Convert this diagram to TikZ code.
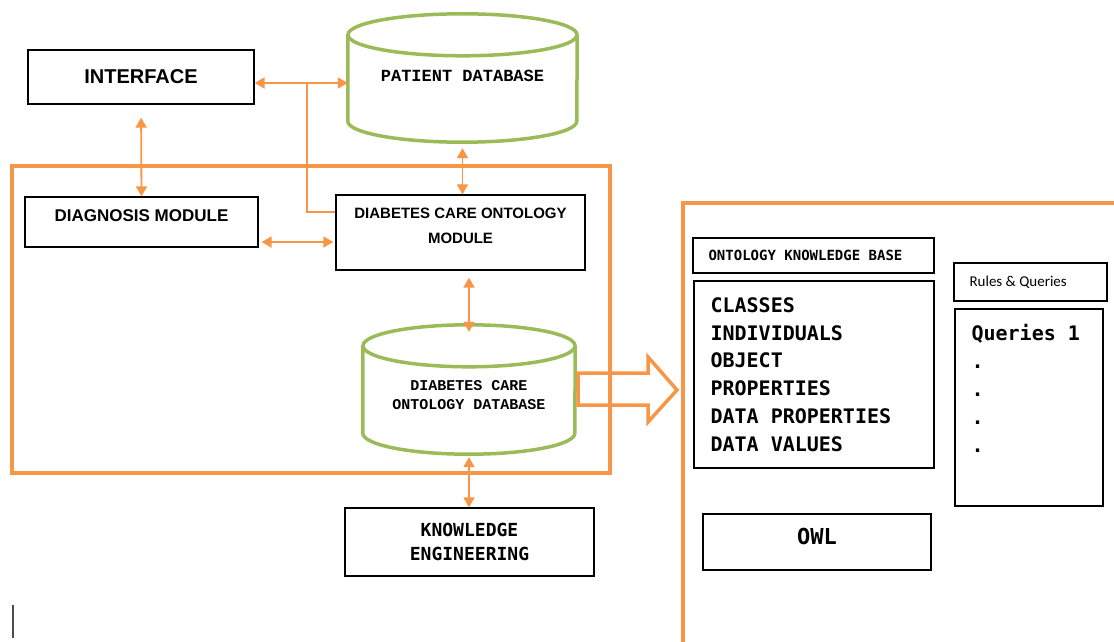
\documentclass[tikz,border=0pt]{standalone}
\usepackage{fontspec}
\setmainfont{Liberation Sans}
\newfontfamily\monoserif{Liberation Mono}
\newfontfamily\monosans{DejaVu Sans Mono}
\newfontfamily\carlito{Carlito}
\usetikzlibrary{
	arrows.meta,
	positioning
  }
\definecolor{ofcorange}{RGB}{247,150,70}
\definecolor{ofcgreen}{RGB}{155,187,89}
\tikzstyle{box}=[draw=black, line width=1.3pt, inner sep=0pt]
\tikzstyle{dbarea}=[inner sep=0pt]
\tikzstyle{dbline}=[draw=ofcgreen, line width=3.5pt]
\tikzstyle{dbtext}=[inner sep=0pt, align=center]
\tikzstyle{list}=[inner sep=0pt, align=left]
\tikzstyle{link}=[draw=ofcorange, line width=1.8pt, {Triangle[length=10pt,width=11pt]}-{Triangle[length=10pt,width=11pt]}]
\tikzstyle{wire}=[draw=ofcorange, line width=1.3pt]
\tikzstyle{outline}=[draw=ofcorange, line width=3.8pt]
% cylinder drawn over an area node: #1 node, #2 x radius, #3 y radius
\newcommand{\drawdb}[3]{%
	\draw[dbline] ([yshift=-#3]#1.north) ellipse[x radius=#2, y radius=#3];
	\draw[dbline] ([yshift=-#3]#1.north west) -- ([yshift=#3]#1.south west)
		arc[start angle=180, end angle=360, x radius=#2, y radius=#3] -- ([yshift=-#3]#1.north east);
}

\begin{document}
\begin{tikzpicture}[x=1pt, y=-1pt]
	\useasboundingbox (0,0) rectangle (1114,642);
	% left block
	\node[outline, minimum width=598, minimum height=307] (core) at (311,319.5) {};
	\node[box, minimum width=226, minimum height=54, font=\bfseries\fontsize{20}{22}\selectfont] (int) at (141,77) {INTERFACE};
	\node[dbarea, minimum width=229, minimum height=128] (pdb) at (462.5,78) {};
	\drawdb{pdb}{114.5pt}{21pt}
	\node[dbtext, font=\monoserif\bfseries\fontsize{17}{20}\selectfont] (pdbtxt) at ([yshift=2pt]pdb.center) {PATIENT DATABASE};
	\node[box, minimum width=233, minimum height=50, label={[font=\bfseries\fontsize{17}{20}\selectfont, yshift=6pt]center:DIAGNOSIS MODULE}] (diag) at (141.5,222) {};
	\node[box, minimum width=249, minimum height=75, label={[align=center, font=\bfseries\fontsize{15}{25}\selectfont, yshift=7pt]center:DIABETES CARE ONTOLOGY\\MODULE}] (dcom) at (460.5,232.5) {};
	\node[dbarea, minimum width=212, minimum height=129] (dcodb) at (469,389.5) {};
	\drawdb{dcodb}{106pt}{21pt}
	\node[dbtext, font=\monoserif\bfseries\fontsize{15}{19}\selectfont] (dcodbtxt) at ([yshift=-6pt]dcodb.center) {DIABETES CARE\\ONTOLOGY DATABASE};
	\node[box, minimum width=249, minimum height=68, align=center, font=\monosans\bfseries\fontsize{18}{24}\selectfont] (ke) at (469.5,542) {KNOWLEDGE\\ENGINEERING};
	% right block
	\draw[outline] (683,642) -- (683,203) -- (1114,203);
	\node[box, minimum width=241, minimum height=35] (okb) at (813.5,255.5) {};
	\node[list, right=16pt of okb.west, font=\monosans\bfseries\fontsize{14}{16}\selectfont] (okbtxt) {ONTOLOGY KNOWLEDGE BASE};
	\node[box, minimum width=240, minimum height=187] (cls) at (814,374.5) {};
	\node[list, right=17pt of cls.west, font=\monosans\bfseries\fontsize{20}{27.8}\selectfont] (clstxt) {CLASSES\\INDIVIDUALS\\OBJECT\\PROPERTIES\\DATA PROPERTIES\\DATA VALUES};
	\node[box, minimum width=153, minimum height=38] (rq) at (1030.5,282) {};
	\node[list, right=16pt of rq.west, font=\carlito\fontsize{15}{17}\selectfont] (rqtxt) {Rules \& Queries};
	\node[box, minimum width=148, minimum height=197] (qry) at (1029,407.5) {};
	\node[list, below right=16pt and 17pt of qry.north west, font=\monosans\bfseries\fontsize{20}{27.8}\selectfont] (qrytxt) {Queries 1\\.\\.\\.\\.};
	\node[box, minimum width=228, minimum height=56, label={[font=\monosans\bfseries\fontsize{22}{24}\selectfont, yshift=6pt]center:OWL}] (owl) at (817,542) {};
	% connectors
	\coordinate (fork) at (307,83);
	\draw[link] (int.east |- fork) -- (pdb.west |- fork);
	\draw[wire] (fork) |- (dcom.west |- 0,212);
	\draw[link, shorten <=13pt] (int.south) -- (diag.north);
	\draw[link, shorten <=3pt, shorten >=2pt] (diag.east |- 0,242) -- (dcom.west |- 0,242);
	\draw[link, shorten <=6pt] (pdb.south) -- (pdb.south |- dcom.north);
	\draw[link, shorten <=7pt, shorten >=-7pt] (dcom.south -| dcodb.north) -- (dcodb.north);
	\draw[link, shorten <=3pt] (dcodb.south) -- (dcodb.south |- ke.north);
	\draw[outline, line width=3.5pt] (578,373) -- (648,373) -- (648,357) -- (677,390) -- (648,422) -- (648,405) -- (578,405) -- cycle;
	\draw[black!70, line width=1.2pt] (13,605) -- (13,638);
\end{tikzpicture}
\end{document}
